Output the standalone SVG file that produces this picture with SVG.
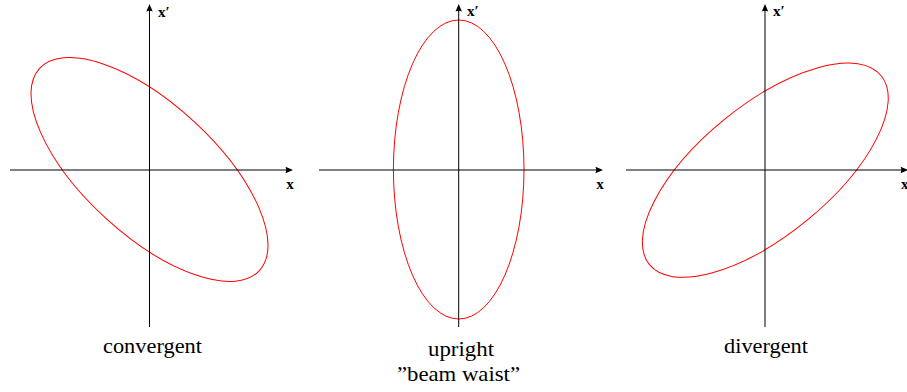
<svg xmlns="http://www.w3.org/2000/svg" width="907" height="392" viewBox="0 0 907 392">
  <defs>
    <marker id="arr" markerUnits="userSpaceOnUse" markerWidth="10" markerHeight="10" viewBox="-9 -5 10 10" refX="-2" refY="0" orient="auto">
      <path d="M0,0 L-7.5,-3.2 Q-5.8,0 -7.5,3.2 Z" fill="#000"/>
    </marker>
  </defs>
  <style>
    .axis { stroke: #000; stroke-width: 1; fill: none; marker-end: url(#arr); }
    .ell { stroke: #ff0000; stroke-width: 1; fill: none; }
    .al { font-family: "Liberation Serif", "DejaVu Serif", serif; font-weight: bold; font-size: 15px; fill: #000; }
    .cap { font-family: "Liberation Serif", "DejaVu Serif", serif; font-size: 21px; fill: #000; text-anchor: middle; }
  </style>

  <g id="panel-convergent">
    <ellipse class="ell" cx="149.5" cy="169.5" rx="149.3" ry="65.5" transform="rotate(42.6 149.5 169.5)"/>
    <line class="axis" x1="10" y1="170" x2="291" y2="170"/>
    <line class="axis" x1="149.5" y1="327" x2="149.5" y2="6"/>
    <text class="al" x="158" y="17">x′</text>
    <text class="al" x="290" y="189" text-anchor="middle">x</text>
    <text class="cap" x="152.5" y="353" textLength="99" lengthAdjust="spacingAndGlyphs">convergent</text>
  </g>

  <g id="panel-upright">
    <ellipse class="ell" cx="458.7" cy="169.5" rx="65.3" ry="149.5"/>
    <line class="axis" x1="319" y1="170" x2="601" y2="170"/>
    <line class="axis" x1="458.7" y1="327" x2="458.7" y2="6"/>
    <text class="al" x="467" y="16">x′</text>
    <text class="al" x="600" y="189" text-anchor="middle">x</text>
    <text class="cap" x="461" y="356" textLength="66" lengthAdjust="spacingAndGlyphs">upright</text>
    <text class="cap" x="458.5" y="381" textLength="123" lengthAdjust="spacingAndGlyphs">”beam waist”</text>
  </g>

  <g id="panel-divergent">
    <ellipse class="ell" cx="765.3" cy="170.2" rx="149.5" ry="65.2" transform="rotate(-39.2 765.3 170.2)"/>
    <line class="axis" x1="626" y1="170" x2="906" y2="170"/>
    <line class="axis" x1="765" y1="327" x2="765" y2="6"/>
    <text class="al" x="773" y="16">x′</text>
    <text class="al" x="901" y="189">x</text>
    <text class="cap" x="766" y="353" textLength="84" lengthAdjust="spacingAndGlyphs">divergent</text>
  </g>
</svg>
